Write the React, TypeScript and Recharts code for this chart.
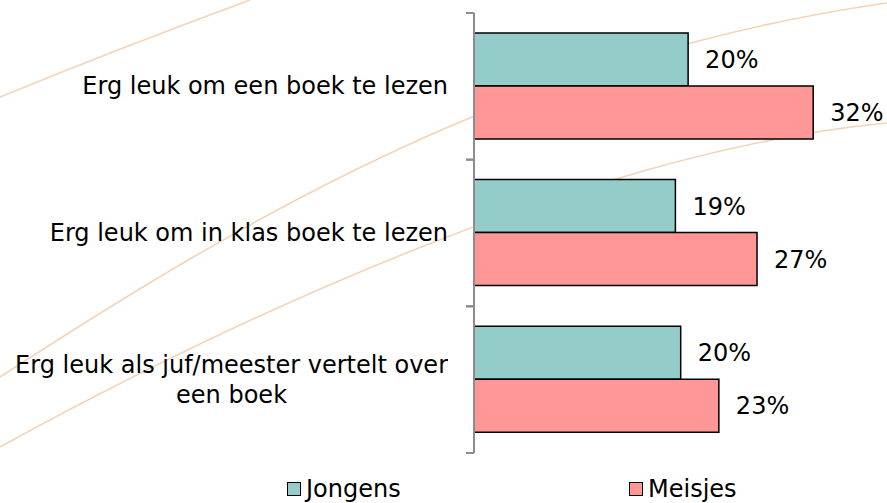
import React from 'react';
import { BarChart, Bar, XAxis, YAxis, Legend, LabelList } from 'recharts';

const CATEGORIES = [
  'Erg leuk om een boek te lezen',
  'Erg leuk om in klas boek te lezen',
  'Erg leuk als juf/meester vertelt over\neen boek',
];
const JONGENS = [20.2, 19.0, 19.5];
const MEISJES = [32.0, 26.7, 23.1];
const SERIES = ['Jongens', 'Meisjes'];

const COLORS = ['#93CCC9', '#FF9797'];
const FONT = '"DejaVu Sans", Verdana, sans-serif';
const AXIS_GRAY = '#8c8c8c';

const data = CATEGORIES.map((name, i) => ({
  name,
  Jongens: JONGENS[i],
  Meisjes: MEISJES[i],
}));

const TICK_SIZE = 8;
const TICK_MARGIN = 18;

function CategoryTick(props: any) {
  const { x, y, payload } = props;
  const half = payload && payload.offset ? payload.offset : 73;
  const axisX = x + TICK_SIZE + TICK_MARGIN;
  return (
    <g>
      <line x1={axisX - TICK_SIZE} x2={axisX} y1={y - half} y2={y - half} stroke={AXIS_GRAY} strokeWidth={2} />
      <line x1={axisX - TICK_SIZE} x2={axisX} y1={y + half} y2={y + half} stroke={AXIS_GRAY} strokeWidth={2} />
      <foreignObject x={x - 460} y={y - 45} width={460} height={90}>
        <div
          style={{
            height: '100%',
            display: 'flex',
            alignItems: 'center',
            justifyContent: 'flex-end',
          }}
        >
          <span
            style={{
              textAlign: 'center',
              whiteSpace: 'pre-line',
              fontFamily: FONT,
              fontSize: 24,
              lineHeight: '30px',
              color: '#000',
            }}
          >
            {payload.value}
          </span>
        </div>
      </foreignObject>
    </g>
  );
}

function LegendContent() {
  const items = [
    { label: SERIES[0], color: COLORS[0], left: 287 },
    { label: SERIES[1], color: COLORS[1], left: 629 },
  ];
  return (
    <div style={{ position: 'relative', width: 887, height: 30, fontFamily: FONT, fontSize: 24 }}>
      {items.map((it) => (
        <div key={it.label} style={{ position: 'absolute', left: it.left, top: 0, height: 30, display: 'flex', alignItems: 'center' }}>
          <span
            style={{
              display: 'inline-block',
              width: 12,
              height: 12,
              background: it.color,
              border: '1.5px solid #000',
              marginRight: 5,
            }}
          />
          <span style={{ color: '#000', lineHeight: '30px' }}>{it.label}</span>
        </div>
      ))}
    </div>
  );
}

const fmt = (v: any) => `${Math.round(Number(v))}%`;

export default function App() {
  return (
    <div style={{ position: 'absolute', left: 0, top: 0, width: 887, height: 503, background: '#fff', overflow: 'hidden' }}>
      {/* decorative background swooshes */}
      <svg width={887} height={503} style={{ position: 'absolute', left: 0, top: 0 }}>
        <g fill="none" stroke="#F5D3B8" strokeWidth={1.6}>
          <path d="M0,97 Q120,48 250,0" />
          <path d="M0,377 C250,215 520,55 887,3" />
          <path d="M0,447 C250,310 600,150 887,123" />
        </g>
      </svg>
      <div style={{ position: 'absolute', left: 0, top: 0 }}>
        <BarChart
          width={887}
          height={503}
          data={data}
          layout="vertical"
          margin={{ top: 13, right: 42, bottom: 20, left: 0 }}
          barCategoryGap="13.6%"
          barGap={0}
        >
          <XAxis type="number" domain={[0, 35]} hide />
          <YAxis
            type="category"
            dataKey="name"
            width={474}
            axisLine={{ stroke: AXIS_GRAY, strokeWidth: 2 }}
            tickLine={false}
            tickSize={TICK_SIZE}
            tickMargin={TICK_MARGIN}
            tick={<CategoryTick />}
            interval={0}
          />
          <Legend
            verticalAlign="bottom"
            content={<LegendContent />}
            wrapperStyle={{ top: 474, left: 0, width: 887, height: 30 }}
          />
          <Bar dataKey="Jongens" fill={COLORS[0]} stroke="#000" strokeWidth={1.5} isAnimationActive={false}>
            <LabelList dataKey="Jongens" position="right" offset={17} formatter={fmt} fill="#000" fontSize={24} fontFamily={FONT} />
          </Bar>
          <Bar dataKey="Meisjes" fill={COLORS[1]} stroke="#000" strokeWidth={1.5} isAnimationActive={false}>
            <LabelList dataKey="Meisjes" position="right" offset={17} formatter={fmt} fill="#000" fontSize={24} fontFamily={FONT} />
          </Bar>
        </BarChart>
      </div>
    </div>
  );
}
